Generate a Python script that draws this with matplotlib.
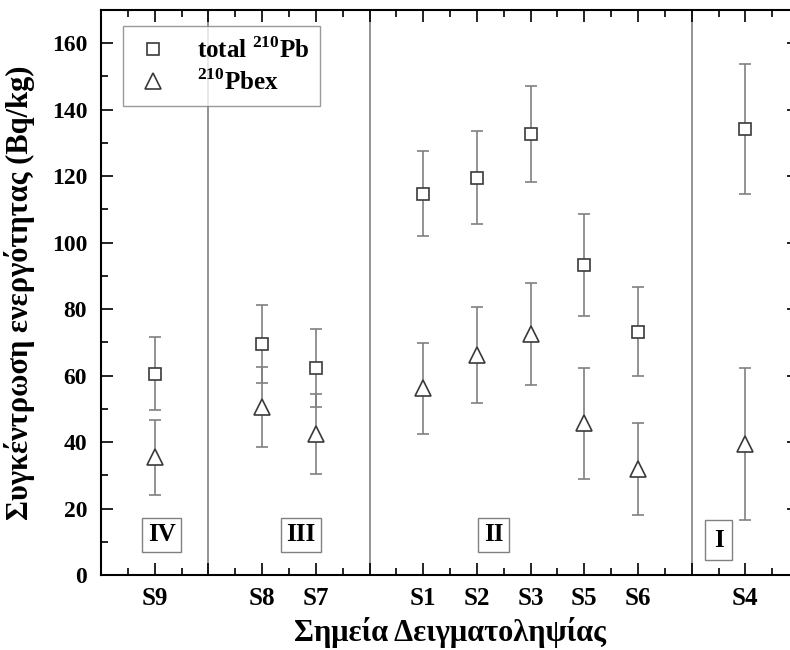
import numpy as np
import matplotlib.pyplot as plt
from matplotlib.ticker import MultipleLocator
from matplotlib.lines import Line2D

plt.rcParams['font.family'] = ['Liberation Serif', 'DejaVu Serif']
plt.rcParams['font.weight'] = 'bold'
plt.rcParams['mathtext.fontset'] = 'custom'
plt.rcParams['mathtext.rm'] = 'Liberation Serif:bold'
plt.rcParams['mathtext.bf'] = 'Liberation Serif:bold'

# sample sites and their positions along the x axis
sites = ['S9', 'S8', 'S7', 'S1', 'S2', 'S3', 'S5', 'S6', 'S4']
site_pos = [1, 3, 4, 6, 7, 8, 9, 10, 12]

# total 210Pb and its uncertainty (Bq/kg)
total_pb = [60.5, 69.5, 62.2, 114.7, 119.6, 132.7, 93.3, 73.2, 134.2]
total_err = [11.0, 11.8, 11.7, 12.8, 14.0, 14.5, 15.4, 13.4, 19.6]

# excess 210Pb and its uncertainty (Bq/kg)
pbex = [35.4, 50.5, 42.5, 56.2, 66.3, 72.5, 45.6, 31.9, 39.4]
pbex_err = [11.2, 12.0, 12.0, 13.7, 14.4, 15.3, 16.6, 13.8, 23.0]

# zone separators and zone labels
zone_bounds = [2, 5, 11]
zones = ['IV', 'III', 'II', 'I']
zone_x = [1.13, 3.72, 7.31, 11.5]
zone_y = [12.1, 12.1, 12.1, 10.5]
zone_pad = [0.22, 0.22, 0.22, 0.33]

fig = plt.figure(figsize=(7.9, 6.5), dpi=100)
ax = fig.add_axes([0.128, 0.1154, 0.8835, 0.8692])

for xb in zone_bounds:
    ax.axvline(xb, color='#808080', lw=1.2, zorder=1)

mk = dict(mfc='white', mec='#3a3a3a', mew=1.2)
ax.errorbar(site_pos, total_pb, yerr=total_err, fmt='s', ms=8.5, ecolor='#808080',
            elinewidth=1.2, capsize=4.5, capthick=1.2, zorder=3, **mk)
ax.errorbar(site_pos, pbex, yerr=pbex_err, fmt='^', ms=11, ecolor='#808080',
            elinewidth=1.2, capsize=4.5, capthick=1.2, zorder=3, **mk)

for z, zx, zy, zp in zip(zones, zone_x, zone_y, zone_pad):
    ax.text(zx, zy, z, ha='center', va='center', fontsize=18, fontweight='bold',
            bbox=dict(boxstyle=f'square,pad={zp}', fc='white', ec='#808080', lw=1))

ax.set_xlim(0, 13)
ax.set_ylim(0, 170)
xt = list(range(0, 14))
ax.set_xticks(xt)
ax.set_xticklabels([sites[site_pos.index(p)] if p in site_pos else '' for p in xt])
ax.xaxis.set_minor_locator(MultipleLocator(0.5))
ax.yaxis.set_major_locator(MultipleLocator(20))
ax.yaxis.set_minor_locator(MultipleLocator(10))
ax.tick_params(which='both', direction='in', top=True, right=True, width=1.2)
ax.tick_params(which='major', length=8.6)
ax.tick_params(axis='x', labelsize=18, pad=9)
ax.tick_params(axis='y', labelsize=17, pad=10)
ax.tick_params(which='minor', length=4.7)

for sp in ax.spines.values():
    sp.set_linewidth(1.5)

ax.set_xlabel('Σημεία Δειγματοληψίας', fontsize=22, fontweight='bold', labelpad=5)
ax.set_ylabel('Συγκέντρωση ενεργότητας (Bq/kg)', fontsize=22, fontweight='bold',
              labelpad=12)

handles = [Line2D([], [], ls='none', marker='s', ms=8.5, **mk),
           Line2D([], [], ls='none', marker='^', ms=11, **mk)]
leg = ax.legend(handles, [r'total $^{210}$Pb', r'$^{210}$Pbex'],
                loc='upper left', bbox_to_anchor=(0.031, 0.972), fontsize=18,
                frameon=True, fancybox=False, edgecolor='#808080',
                handlelength=1.5, handletextpad=1.0, borderpad=0.45,
                labelspacing=0.25, borderaxespad=0)
leg.get_frame().set_linewidth(1)

fig.savefig('out.png', dpi=100)
